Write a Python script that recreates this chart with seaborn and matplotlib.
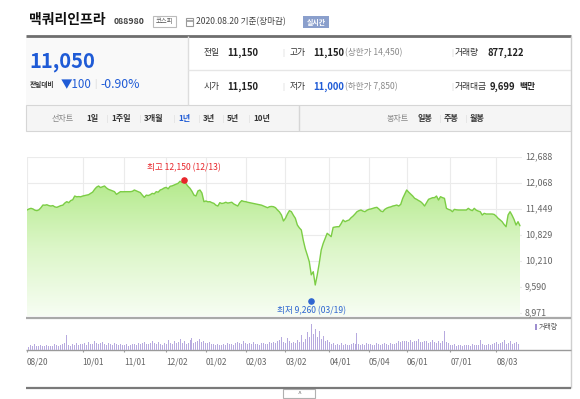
import numpy as np
import pandas as pd
import matplotlib
matplotlib.use("Agg")
import matplotlib.pyplot as plt
import seaborn as sns
from matplotlib.patches import Rectangle
from matplotlib.colors import LinearSegmentedColormap

sns.set_style("white")
plt.rcParams['font.family'] = ['Noto Sans CJK KR', 'DejaVu Sans']

# --- data -------------------------------------------------------------
holidays = ["2019-09-12", "2019-09-13", "2019-10-03", "2019-10-09", "2019-12-25",
            "2019-12-31", "2020-01-01", "2020-01-24", "2020-01-27", "2020-04-15",
            "2020-04-30", "2020-05-01", "2020-05-05", "2020-08-17"]

# daily close, one list per month
close_aug19 = [11425, 11450, 11465, 11450, 11420, 11410, 11430, 11480, 11544]
close_sep19 = [11540, 11550, 11530, 11520, 11530, 11500, 11489, 11510, 11530, 11540,
               11590, 11624, 11600, 11650, 11670, 11758, 11740, 11745, 11740]
close_oct19 = [11758, 11770, 11780, 11790, 11822, 11850, 11917, 11970, 11997, 11960,
               11980, 11997, 11950, 11917, 11900, 11880, 11862, 11798, 11830, 11862, 11860]
close_nov19 = [11862, 11862, 11862, 11862, 11870, 11902, 11880, 11860, 11840, 11780,
               11726, 11780, 11770, 11790, 11822, 11810, 11862, 11850, 11902, 11920, 11950]
close_dec19 = [11965, 11930, 11990, 12000, 12021, 12040, 12061, 12110, 12080, 12124,
               12050, 11990, 11942, 11870, 11780, 11760, 11880, 11902, 11830, 11624]
close_jan20 = [11640, 11620, 11624, 11600, 11584, 11540, 11520, 11600, 11580, 11590,
               11610, 11590, 11600, 11610, 11570, 11544, 11520, 11600, 11648, 11630]
close_feb20 = [11624, 11610, 11600, 11590, 11580, 11568, 11560, 11550, 11540, 11520,
               11500, 11480, 11504, 11510, 11504, 11480, 11425, 11380, 11306, 11163]
close_mar20 = [11227, 11330, 11410, 11385, 11300, 11227, 11068, 11000, 10948, 10700,
               10500, 10352, 10193, 9880, 9955, 9638, 9876, 10155, 10472, 10630, 10750, 10870]
close_apr20 = [10830, 10790, 11010, 11020, 11027, 11027, 11100, 11187, 11147, 11170,
               11187, 11240, 11280, 11330, 11385, 11410, 11425, 11400, 11385, 11420]
close_may20 = [11441, 11450, 11465, 11480, 11489, 11450, 11400, 11385, 11441, 11470,
               11489, 11500, 11520, 11530, 11544, 11520, 11560, 11703, 11800]
close_jun20 = [11902, 11850, 11806, 11760, 11703, 11680, 11650, 11624, 11580, 11520,
               11600, 11680, 11700, 11718, 11720, 11758, 11663, 11742, 11720, 11703, 11465, 11440]
close_jul20 = [11425, 11385, 11441, 11430, 11425, 11425, 11425, 11425, 11425, 11465,
               11430, 11410, 11465, 11420, 11400, 11385, 11306, 11346, 11330, 11330, 11330, 11330, 11320]
close_aug20 = [11280, 11227, 11190, 11147, 11080, 11027, 11306, 11385, 11300, 11200,
               11068, 11147, 11050]

# daily volume (thousand shares)
vol_aug19 = [700, 500, 800, 600, 1000, 600, 650, 800, 600]
vol_sep19 = [700, 900, 600, 750, 700, 1000, 800, 650, 900, 1100, 1200, 2800, 900, 700,
             1000, 800, 1200, 900, 1100]
vol_oct19 = [1000, 1300, 900, 1400, 1100, 1000, 1600, 1200, 1000, 1300, 1500, 1100, 900,
             1200, 1000, 800, 1300, 1100, 900, 1000, 800]
vol_nov19 = [900, 1000, 700, 800, 1100, 1000, 900, 1300, 1000, 1200, 1500, 1100, 1000,
             1300, 1600, 1200, 1000, 1400, 1100, 900, 1200]
vol_dec19 = [1000, 1800, 1300, 1100, 1600, 1200, 1500, 2000, 1300, 1600, 1100, 1200, 1800,
             2200, 1300, 1500, 1700, 2100, 1400, 1600]
vol_jan20 = [1300, 1200, 1500, 1100, 1000, 900, 1100, 900, 800, 1000, 900, 1200, 1000,
             1100, 900, 1300, 1500, 1200, 1000, 1600]
vol_feb20 = [1200, 1100, 1300, 1000, 1400, 1100, 1000, 900, 1200, 1300, 1100, 1000, 1400,
             1200, 1500, 1300, 1600, 1800, 2400, 1500]
vol_mar20 = [1300, 2200, 1600, 1200, 1400, 1300, 1800, 1400, 2800, 1500, 2000, 3400, 2400,
             5000, 3000, 4000, 2400, 3600, 2000, 2600, 1600, 1800]
vol_apr20 = [1400, 1100, 1300, 900, 1000, 800, 1200, 900, 1000, 800, 900, 1100, 1300, 1000,
             3300, 1100, 900, 1000, 800, 1200]
vol_may20 = [1000, 1100, 900, 800, 1200, 1000, 900, 1100, 1300, 1000, 900, 1200, 1000,
             1100, 1300, 1600, 1500, 1700, 1600]
vol_jun20 = [1600, 1500, 1800, 1400, 1700, 1600, 2000, 1500, 1400, 1700, 1600, 1300, 1500,
             1800, 1400, 1200, 1700, 1300, 1600, 3600, 1500, 1200]
vol_jul20 = [900, 800, 1000, 700, 800, 900, 700, 800, 900, 800, 700, 1000, 900, 800, 900,
             1800, 1000, 900, 800, 1100, 900, 1000, 1200]
vol_aug20 = [1400, 1000, 1200, 1500, 1800, 1100, 1300, 1600, 1000, 1200, 1400, 1100, 877]

price_ticks = [8971, 9590, 10210, 10829, 11449, 12068, 12688]
tick_dates = ["2019-08-20", "2019-10-01", "2019-11-01", "2019-12-02", "2020-01-02",
              "2020-02-03", "2020-03-02", "2020-04-01", "2020-05-04", "2020-06-01",
              "2020-07-01", "2020-08-03"]
high_date, high_val = "2019-12-13", 12150
low_date, low_val = "2020-03-19", 9260

days = pd.bdate_range("2019-08-20", "2020-08-20")
days = days[~days.isin(pd.to_datetime(holidays))]
close = sum([close_aug19, close_sep19, close_oct19, close_nov19, close_dec19, close_jan20,
             close_feb20, close_mar20, close_apr20, close_may20, close_jun20, close_jul20,
             close_aug20], [])
volume = sum([vol_aug19, vol_sep19, vol_oct19, vol_nov19, vol_dec19, vol_jan20, vol_feb20,
              vol_mar20, vol_apr20, vol_may20, vol_jun20, vol_jul20, vol_aug20], [])
n = min(len(days), len(close), len(volume))
df = pd.DataFrame({"i": np.arange(n), "close": close[:n], "volume": np.array(volume[:n]) * 1000})
tick_pos = [days.get_loc(pd.Timestamp(d)) for d in tick_dates]

# --- figure -----------------------------------------------------------
W, H = 580, 399
fig = plt.figure(figsize=(W / 100, H / 100), dpi=100)
bg = fig.add_axes([0, 0, 1, 1])
bg.set_xlim(0, W)
bg.set_ylim(H, 0)
bg.axis("off")

BLUE = "#1f5bd6"
GRID = "#ebebeb"


def t(x, y, s, size=6.3, color="#333", weight="normal", ha="left", va="center", **kw):
    bg.text(x, y, s, fontsize=size, color=color, weight=weight, ha=ha, va=va, **kw)


def hline(y, x0, x1, color, lw=1):
    bg.plot([x0, x1], [y, y], color=color, lw=lw, solid_capstyle="butt")


def vline(x, y0, y1, color, lw=1):
    bg.plot([x, x], [y0, y1], color=color, lw=lw, solid_capstyle="butt")


# header
t(29, 20, "맥쿼리인프라", size=10, color="#111", weight="bold")
t(114, 22, "088980", size=6.3, color="#444", weight="bold")
bg.add_patch(Rectangle((153, 16), 23, 11, fc="white", ec="#bbbbbb", lw=0.8))
t(164.5, 21.5, "코스피", size=4.6, color="#555", ha="center")
bg.add_patch(Rectangle((185.5, 18), 7, 8, fc="white", ec="#9a9a9a", lw=0.8))
hline(20.5, 185.5, 192.5, "#9a9a9a", 1.2)
t(196, 22, "2020.08.20 기준(장마감)", size=6.2, color="#444")
bg.add_patch(Rectangle((303, 16), 26, 12, fc="#8a9fcc", ec="none"))
t(316, 22, "실시간", size=5, color="white", weight="bold", ha="center")

# info panel
bg.add_patch(Rectangle((26, 36), 162, 69, fc="#f9f9f9", ec="none"))
hline(35.5, 26, 571, "#6e6e6e", 2)
vline(188, 36, 105, "#dddddd")
hline(70, 188, 571, "#e6e6e6")
vline(571, 36, 388, "#cfcfcf")

t(29, 62, "11,050", size=14.5, color=BLUE, weight="bold")
t(30, 84, "전일대비", size=4.8, color="#333", weight="bold")
t(61, 84, "▼100", size=8.3, color=BLUE)
t(94, 84, "|", size=6, color="#cccccc")
t(100, 84, "-0.90%", size=8.8, color=BLUE)

rows = [(53, "전일", "11,150", "#222", "고가", "11,150", "#222", "(상한가 14,450)",
         "거래량", "877,122", ""),
        (87, "시가", "11,150", "#222", "저가", "11,000", BLUE, "(하한가 7,850)",
         "거래대금", "9,699", "백만")]
for y, l1, v1, c1, l2, v2, c2, lim, l3, v3, unit in rows:
    t(204, y, l1, size=6.3)
    t(227, y, v1, size=6.8, color=c1, weight="bold")
    t(282, y, "|", size=5.5, color="#cccccc")
    t(290, y, l2, size=6.3)
    t(313, y, v2, size=6.8, color=c2, weight="bold")
    t(345, y, lim, size=6.2, color="#8a8a8a")
    t(451, y, "|", size=5.5, color="#cccccc")
    t(455, y, l3, size=6.3)
    t(487 if not unit else 490, y, v3, size=6.8, color="#222", weight="bold")
    if unit:
        t(519, y, unit, size=6.3, color="#222", weight="bold")

# tab bar
bg.add_patch(Rectangle((26, 105), 545, 26, fc="#f5f5f5", ec="#d6d6d6", lw=0.8))
vline(299, 105, 131, "#d6d6d6")
t(52, 119, "선차트", size=5.8, color="#888")
tabs = [(86, "1일"), (111, "1주일"), (144, "3개월"), (178, "1년"), (203, "3년"),
        (227, "5년"), (253, "10년")]
for k, (x, s) in enumerate(tabs):
    t(x, 119, s, size=5.8, color=BLUE if s == "1년" else "#333", weight="bold")
    if k:
        t(x - 5, 119, "|", size=4.5, color="#cfcfcf")
t(387, 119, "봉차트", size=5.8, color="#888")
for k, (x, s) in enumerate([(418, "일봉"), (444, "주봉"), (470, "월봉")]):
    t(x, 119, s, size=5.8, color="#333", weight="bold")
    if k:
        t(x - 5, 119, "|", size=4.5, color="#cfcfcf")

# --- price chart ------------------------------------------------------
X0, X1 = 27, 522
xmax = (n - 1) * (X1 - X0) / 493.0
ybot = 8971 - 3 * (12688 - 8971) / 156.0
ax = fig.add_axes([X0 / W, 1 - 316 / H, (X1 - X0) / W, (316 - 157) / H])
ax.set_facecolor("none")
for s in ax.spines.values():
    s.set_visible(False)

fill = ax.fill_between(df["i"], df["close"], ybot, facecolor="none", edgecolor="none")
grad = np.linspace(0, 1, 256).reshape(-1, 1)
cmap = LinearSegmentedColormap.from_list("g", ["#f7fdf3", "#dcf6c8", "#b4ea8c"])
im = ax.imshow(grad, extent=[0, xmax, ybot, df["close"].max()], origin="lower",
               aspect="auto", cmap=cmap, zorder=1)
im.set_clip_path(fill.get_paths()[0], transform=ax.transData)
sns.lineplot(data=df, x="i", y="close", ax=ax, color="#7ccd45", linewidth=1.0, zorder=3)

ax.set_xlim(0, xmax)
ax.set_ylim(ybot, 12688)
ax.set_yticks(price_ticks)
ax.set_xticks(tick_pos)
ax.grid(True, color=GRID, lw=0.8, zorder=0)
ax.set_axisbelow(True)
ax.tick_params(left=False, bottom=False, labelleft=False, labelbottom=False)
ax.set_xlabel("")
ax.set_ylabel("")

hi = days.get_loc(pd.Timestamp(high_date))
lo = days.get_loc(pd.Timestamp(low_date))
ax.scatter([hi], [high_val], s=14, color="#e8262b", zorder=5, clip_on=False)
ax.scatter([lo], [low_val], s=14, color="#2f66d0", zorder=5, clip_on=False)
ax.annotate(f"최고 {high_val:,} (12/13)", (hi, high_val), xytext=(0, 5),
            textcoords="offset points", ha="center", va="bottom", fontsize=6.2,
            color="#e8262b", annotation_clip=False)
ax.annotate(f"최저 {low_val:,} (03/19)", (lo, low_val), xytext=(0, -4),
            textcoords="offset points", ha="center", va="top", fontsize=6.2,
            color="#2f66d0", annotation_clip=False)

for v in price_ticks:
    yy = 157 + (12688 - v) / (12688 - 8971) * 156
    t(525, yy, f"{v:,}", size=6.4, color="#666")

# --- volume chart -----------------------------------------------------
vax = fig.add_axes([X0 / W, 1 - 349.5 / H, (X1 - X0) / W, 29.5 / H])
vax.set_facecolor("none")
sns.barplot(data=df, x="i", y="volume", native_scale=True, width=0.5, color="#b7aadf",
            saturation=1, errorbar=None, linewidth=0, ax=vax)
vax.set_xlim(0, xmax)
vax.set_ylim(0, 5800000)
vax.axis("off")

hline(318, 26, 571, "#a9a9a9", 1.6)
hline(349.5, 26, 571, "#9a9a9a", 1)
bg.add_patch(Rectangle((535, 324), 1.6, 6, fc="#9e8fd0", ec="none"))
t(539, 327.5, "거래량", size=5, color="#555")
for p, d in zip(tick_pos, tick_dates):
    xx = X0 + p * (X1 - X0) / xmax
    vline(xx, 349.5, 352, "#9a9a9a", 0.8)
    t(xx, 362, pd.Timestamp(d).strftime("%m/%d"), size=6, color="#666")

hline(388, 26, 571, "#7a7a7a", 1.6)
bg.add_patch(Rectangle((283, 388.5), 32, 9, fc="white", ec="#b0b0b0", lw=0.8))
t(299, 394, "^", size=5, color="#666", ha="center")

fig.savefig("out.png", dpi=100)
